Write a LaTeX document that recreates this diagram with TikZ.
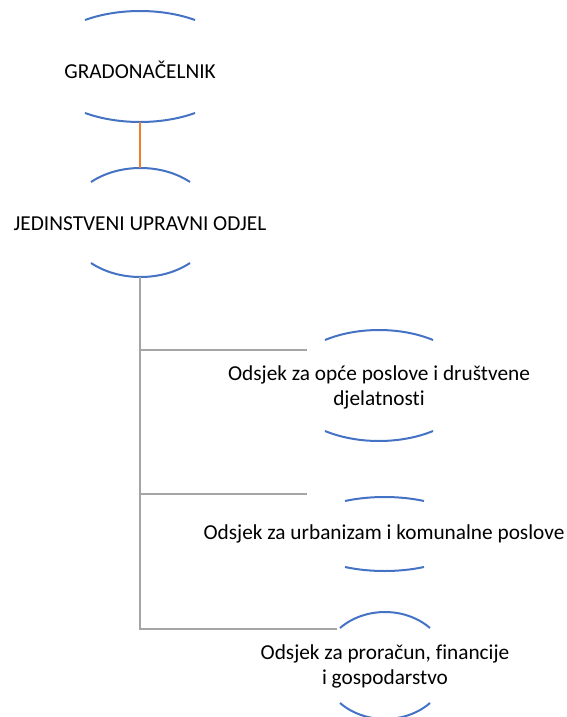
\documentclass[tikz,border=0pt]{standalone}
\usepackage{fontspec}
\setmainfont{Carlito}[Ligatures=NoCommon]
\definecolor{arcblue}{HTML}{4472C4}
\definecolor{linkorange}{HTML}{ED7D31}
\definecolor{linkgrey}{HTML}{A5A5A5}
\tikzset{
  arcline/.style={draw=arcblue, line width=2pt},
  greyline/.style={draw=linkgrey, line width=2.5pt},
  orangeline/.style={draw=linkorange, line width=2pt},
  label/.style={font=\fontsize{21.3}{25}\selectfont, align=center, inner sep=0pt, text=black}
}
% \arcpair{cx}{cy}{w}{ry}{dy}
\newcommand\arcpair[5]{%
  \pgfmathsetmacro\arcT{asin(#5/#4)}%
  \pgfmathsetmacro\arcRx{#3/cos(\arcT)}%
  \draw[arcline] (#1-#3,#2-#5) arc[start angle={-180+\arcT}, end angle={-\arcT}, x radius=\arcRx, y radius=#4];
  \draw[arcline] (#1-#3,#2+#5) arc[start angle={180-\arcT}, end angle={\arcT}, x radius=\arcRx, y radius=#4];
}
\begin{document}
\begin{tikzpicture}[x=1pt,y=-1pt]
\useasboundingbox (0,0) rectangle (567,717);
% nodes
\node[label] (g) at (140,70) {GRADONAČELNIK};
\node[label] (j) at (140,224) {JEDINSTVENI UPRAVNI ODJEL};
\node[label] (o1) at (379,387) {Odsjek za opće poslove i društvene\\djelatnosti};
\node[label] (o2) at (384,534) {Odsjek za urbanizam i komunalne poslove};
\node[label] (o3) at (385,666) {Odsjek za proračun, financije\\i gospodarstvo};
% arcs
\arcpair{140}{66.5}{55}{55.5}{46.5}
\arcpair{140.5}{222.5}{49.5}{54.5}{40.5}
\arcpair{379}{385.5}{54}{55.5}{45.5}
\arcpair{384.5}{534}{39.5}{37}{33}
\arcpair{385}{665.5}{45}{53.5}{37.5}
% connector points
\coordinate (gb) at (140,122);
\coordinate (jt) at (140,168);
\coordinate (jb) at (140,277);
\coordinate (c1) at (140,350);
\coordinate (c2) at (140,494);
\coordinate (c3) at (140,629);
\coordinate (e1) at (307,350);
\coordinate (e2) at (307,494);
\coordinate (e3) at (337,629);
\draw[orangeline] (gb) -- (jt);
\draw[greyline] (jb) -- (c3) -- (e3);
\draw[greyline] (c1) -- (e1);
\draw[greyline] (c2) -- (e2);
\end{tikzpicture}
\end{document}
